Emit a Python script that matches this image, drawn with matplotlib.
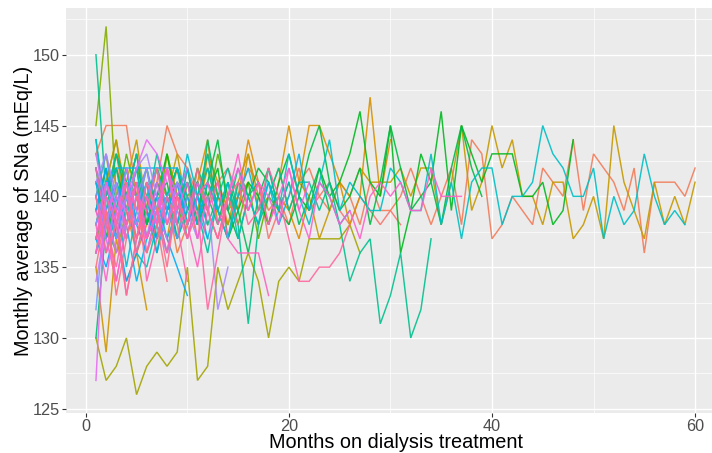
import matplotlib
matplotlib.use("Agg")
import matplotlib.pyplot as plt
import numpy as np
from matplotlib.ticker import MultipleLocator

# monthly average serum sodium per patient, month 1 onwards
pt00 = [141, 138, 142, 140, 137, 139, 141, 140, 138, 142, 139, 140, 141, 138, 140, 139, 141, 137, 139, 140,
        142, 139, 140, 141, 139, 138, 140, 139, 138, 139, 138]
pt01 = [143, 145, 145, 145, 140, 138, 141, 145, 143, 142, 140, 139, 141, 142, 140, 142, 141, 139, 140, 138,
        141, 142, 140, 139, 141, 140, 138, 141, 139, 139, 140, 142, 140, 138, 140, 142, 138, 144, 143, 137,
        138, 140, 139, 138, 142, 141, 140, 144, 139, 143, 142, 141, 139, 142, 136, 141, 141, 141, 140, 142]
pt02 = [142, 139, 136, 138, 141, 137, 139, 140, 136, 138, 141, 139, 137, 140]
pt03 = [137, 140, 143, 139, 136, 138, 141, 139, 142, 140, 137, 141, 139, 138]
pt04 = [139, 137, 140, 142, 138, 140, 139, 137, 141, 140, 138, 143, 141, 139, 140, 144, 141, 138, 140, 139,
        137, 140]
pt05 = [138, 141, 144, 140, 143, 139, 137, 140, 142, 139, 141, 144, 138, 140, 139, 143, 140, 138, 141, 145,
        141, 145, 145, 143, 141, 138, 140, 147, 140, 144]
pt06 = [135, 129, 137, 134, 136, 132]
pt07 = [140, 143, 138, 141, 144, 139, 142, 140, 137, 141, 139, 142, 140, 138, 141, 143, 139, 140, 142, 139,
        141, 140, 137, 139, 141, 140, 142, 141, 141, 141, 142, 140, 142, 142, 138, 141, 145, 139, 141, 145,
        142, 144, 140, 140, 138, 141, 141, 137, 138, 140, 137, 145, 141, 139, 137, 141, 138, 140, 138, 141]
pt08 = [143, 140, 137, 141, 139, 142, 138, 140, 143, 139, 141, 138]
pt09 = [136, 141, 144, 139, 137, 140, 138, 143, 140, 138, 142, 139]
pt10 = [130, 127, 128, 130, 126, 128, 129, 128, 129, 135, 127, 128, 135, 132, 134, 136, 134, 130, 134, 135,
        134, 137, 137, 137, 137, 138, 136]
pt11 = [141, 138, 136, 139, 142, 140, 137, 139, 141, 138, 140, 142, 139, 137, 140, 141]
pt12 = [145, 152, 140, 138, 141, 139, 142, 140, 138]
pt13 = [139, 142, 138, 141, 140, 137, 139, 143, 140, 138, 141]
pt14 = [138, 141, 139, 143, 140, 137, 139, 142, 138, 140, 141, 139, 143, 140, 138, 141, 137, 140, 139]
pt15 = [142, 137, 140, 138, 141, 139, 136, 140, 142, 139, 141]
pt16 = [137, 140, 142, 139, 141, 138, 140, 143, 139, 141, 138, 140, 142, 137, 139, 141, 140, 138, 141, 143,
        140, 139, 142, 140, 141, 143, 146, 141, 140, 145, 136, 139, 143, 141, 146, 139, 145, 143, 141, 143,
        143, 143, 140, 140, 141, 138, 139, 144]
pt17 = [139, 142, 137, 140, 143, 138, 141, 139, 140, 142, 138, 141, 144, 139, 137, 140, 142, 141, 139, 138,
        140, 143, 145, 141, 139, 140, 142, 138, 141, 145, 142, 139, 140, 141, 138, 142, 145, 142, 140]
pt18 = [140, 137, 141, 139, 142, 138, 140, 141, 137, 139, 142, 140, 138, 141, 139, 136, 140, 142, 139, 141,
        138, 140, 142, 139]
pt19 = [130, 138, 141, 137, 140, 142, 139, 136, 140, 141, 138, 144, 140]
pt20 = [141, 139, 143, 140, 138, 141, 137, 140, 142, 139, 141, 138, 140, 139, 142, 140, 141]
pt21 = [150, 140, 143, 141, 138, 140, 142, 139, 141, 137, 140, 143, 139, 141, 138, 131, 138, 140, 142, 139,
        141, 141, 139, 141, 138, 134, 136, 137, 131, 133, 136, 130, 132, 137]
pt22 = [137, 140, 142, 138, 141, 139, 143, 140, 138, 141, 139, 136, 140, 142, 139]
pt23 = [139, 141, 138, 140, 143, 139, 137, 140, 142, 138, 140, 141, 139, 137, 141, 140, 138, 142, 139, 141]
pt24 = [144, 139, 137, 140, 136, 135, 138, 140, 137, 139, 141]
pt25 = [144, 138, 141, 139, 142, 137, 140, 139, 141, 138, 140, 142, 139, 141, 137, 140, 138, 141, 139, 143,
        140, 138, 141, 144, 139, 141, 140, 139, 139, 142, 141, 139, 139, 143, 138, 141, 137, 141, 142, 142,
        138, 140, 140, 141, 145, 143, 142, 140, 140, 142, 137, 140, 138, 139, 143, 140, 138, 139, 138]
pt26 = [140, 136, 139, 142, 138, 141, 140, 137, 139, 143, 140, 138]
pt27 = [142, 138, 140, 135, 139, 141, 137, 140, 138, 142, 139, 137, 140]
pt28 = [138, 141, 142, 142, 142, 142, 142, 142, 142, 140, 138, 141, 139, 137, 140, 142, 139, 141, 138, 140,
        143, 139, 141, 140, 138, 139]
pt29 = [136, 139, 141, 138, 134, 137, 140, 138, 141, 139]
pt30 = [141, 137, 139, 142, 138, 140, 136, 139, 141, 138, 140, 137]
pt31 = [139, 142, 137, 140, 138, 136, 139, 137, 135, 133]
pt32 = [137, 135, 138, 134, 136, 139, 137, 140]
pt33 = [140, 143, 139, 141, 138, 140, 142, 139, 137, 140]
pt34 = [132, 140, 137, 141, 139, 142, 138, 140, 141]
pt35 = [138, 141, 139, 137, 140, 142, 138, 136, 139]
pt36 = [141, 143, 140, 139, 142, 143, 140, 138, 141, 139, 137, 140, 132, 135]
pt37 = [134, 138, 141, 137, 140, 139]
pt38 = [143, 139, 136, 140, 138, 141, 139, 137]
pt39 = [136, 140, 138, 142, 139, 137, 141, 138, 140, 142]
pt40 = [127, 141, 138, 140, 142, 144, 143, 141]
pt41 = [140, 137, 134, 138, 141, 136, 139, 142, 138]
pt42 = [139, 136, 140, 138, 141, 137, 139, 142, 140, 138, 141, 139, 137, 140, 142, 139, 141, 140, 138, 142,
        139, 141]
pt43 = [137, 141, 139, 133, 137, 140, 138, 142, 139, 141, 137, 140]
pt44 = [138, 134, 139, 141, 137, 140, 138, 142, 139, 137, 140, 141, 138, 140, 143, 139, 141, 138, 140, 142,
        139, 137, 141, 140, 138, 139, 137, 140, 141, 140, 141, 139, 139, 142, 140, 140, 140]
pt45 = [136, 139, 134, 138, 141, 137, 139, 136, 140, 138, 135, 139, 141, 137, 136, 136, 136, 133]
pt46 = [142, 138, 135, 139, 141, 134, 137, 140, 138, 134]
pt47 = [137, 140, 138, 141, 136, 139, 142, 138, 140, 137, 139, 132, 136, 140, 141, 138, 139, 142, 140, 137,
        134, 134, 135, 135, 136, 138]
pt48 = [140, 136, 138, 133, 137, 141, 139, 135, 140, 138, 142, 139, 137, 140, 138]
pt49 = [135, 139, 133, 137, 140, 136, 138, 134]

patients = [pt00, pt01, pt02, pt03, pt04, pt05, pt06, pt07, pt08, pt09,
            pt10, pt11, pt12, pt13, pt14, pt15, pt16, pt17, pt18, pt19,
            pt20, pt21, pt22, pt23, pt24, pt25, pt26, pt27, pt28, pt29,
            pt30, pt31, pt32, pt33, pt34, pt35, pt36, pt37, pt38, pt39,
            pt40, pt41, pt42, pt43, pt44, pt45, pt46, pt47, pt48, pt49]


def hue_pal(n, c=100.0, l=65.0, h0=15.0):
    # evenly spaced HCL hues, like ggplot's default discrete scale
    hues = np.linspace(h0, h0 + 360, n + 1)[:-1]
    m = np.array([[3.2404542, -1.5371385, -0.4985314],
                  [-0.9692660, 1.8760108, 0.0415560],
                  [0.0556434, -0.2040259, 1.0572252]])
    un, vn = 0.1978398, 0.4683363
    cols = []
    for h in hues:
        hr = np.deg2rad(h)
        u, v = c * np.cos(hr), c * np.sin(hr)
        Y = ((l + 16) / 116) ** 3
        up = u / (13 * l) + un
        vp = v / (13 * l) + vn
        X = Y * 9 * up / (4 * vp)
        Z = Y * (12 - 3 * up - 20 * vp) / (4 * vp)
        rgb = m @ np.array([X, Y, Z])
        rgb = np.clip(rgb, 0, None)
        rgb = np.where(rgb <= 0.0031308, 12.92 * rgb, 1.055 * rgb ** (1 / 2.4) - 0.055)
        cols.append(tuple(np.clip(rgb, 0, 1)))
    return cols


plt.rcParams["font.family"] = ["Liberation Sans", "DejaVu Sans"]

fig = plt.figure(figsize=(7.12, 4.53), dpi=100)
W, H = 712, 453
# panel runs a little past the right edge of the canvas
ax = fig.add_axes([66 / W, 40 / H, (725 - 66) / W, (413 - 8) / H])
ax.set_facecolor("#EBEBEB")

colours = hue_pal(len(patients))
for vals, col in zip(patients, colours):
    months = np.arange(1, len(vals) + 1)
    ax.plot(months, vals, color=col, lw=1.05, alpha=0.9, solid_joinstyle="miter")

ax.set_xlim(-1.95, 62.95)
ax.set_ylim(124.7, 153.3)
ax.xaxis.set_major_locator(MultipleLocator(20))
ax.xaxis.set_minor_locator(MultipleLocator(10))
ax.yaxis.set_major_locator(MultipleLocator(5))
ax.yaxis.set_minor_locator(MultipleLocator(2.5))
ax.grid(which="major", color="white", lw=1.0)
ax.grid(which="minor", color="white", lw=0.5)
ax.set_axisbelow(True)
for sp in ax.spines.values():
    sp.set_visible(False)
ax.tick_params(which="major", length=2.6, width=0.8, color="#333333",
               labelsize=11.7, labelcolor="#4D4D4D", pad=2)
ax.tick_params(which="minor", length=0)

fig.text(24 / W, 1 - 211 / H, "Monthly average of SNa (mEq/L)", rotation=90,
         ha="center", va="center", fontsize=14.3, color="black")
fig.text(396 / W, 5 / H, "Months on dialysis treatment",
         ha="center", va="baseline", fontsize=14.3, color="black")

fig.savefig("out.png", dpi=100)
